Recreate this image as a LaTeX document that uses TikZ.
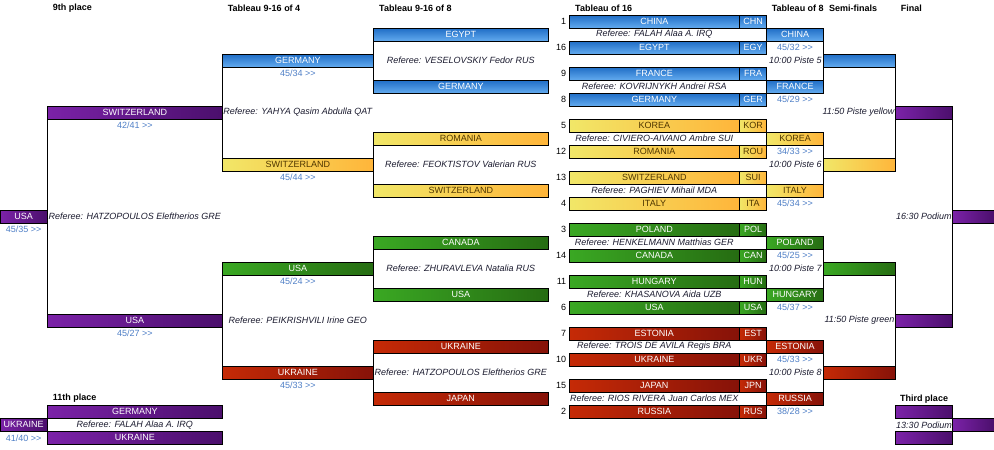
\documentclass[tikz,border=0pt]{standalone}
\usepackage{fontspec}
\setmainfont{Liberation Sans}
\usetikzlibrary{calc,positioning}

\definecolor{blueA}{HTML}{1F6DC6}
\definecolor{blueB}{HTML}{62AAEE}
\definecolor{yelA}{HTML}{F1E768}
\definecolor{yelB}{HTML}{FFB53A}
\definecolor{grnA}{HTML}{3AA823}
\definecolor{grnB}{HTML}{266C12}
\definecolor{redA}{HTML}{C52A06}
\definecolor{redB}{HTML}{861208}
\definecolor{purA}{HTML}{7B22A8}
\definecolor{purB}{HTML}{4B0F6C}
\definecolor{scoreblue}{HTML}{4F7FC6}
\definecolor{yeltext}{HTML}{4F3600}
\definecolor{refcol}{HTML}{1A1A2E}
\newcommand{\bfont}{\fontsize{9}{10}\selectfont}
\newcommand{\nxt}{>{}>}

\tikzset{
  team/.style={draw, line width=0.9pt, inner sep=0pt, outer sep=0pt,
    minimum height=13pt, text height=6.5pt, text depth=1.5pt, text=white, font=\bfont},
  blueteam/.style={team, top color=blueA, bottom color=blueB},
  yellowteam/.style={team, left color=yelA, right color=yelB, text=yeltext},
  greenteam/.style={team, left color=grnA, right color=grnB},
  redteam/.style={team, left color=redA, right color=redB},
  purpleteam/.style={team, left color=purA, right color=purB},
  w16/.style={minimum width=170pt},
  wcode/.style={minimum width=27.4pt},
  w8/.style={minimum width=56.6pt},
  wsemi/.style={minimum width=72.4pt},
  wfin/.style={minimum width=56.6pt},
  wwin/.style={minimum width=41.7pt},
  wfour/.style={minimum width=151pt},
  wplace/.style={minimum width=175pt},
  wlow/.style={minimum width=47.3pt},
  heading/.style={anchor=west, inner sep=0pt, font=\bfont\bfseries},
  seed/.style={inner sep=0pt, font=\bfont},
  score/.style={inner sep=0pt, text=scoreblue, font=\bfont},
  referee/.style={inner sep=0pt, text=refcol, font=\bfont\itshape},
  bracket/.style={line width=1.2pt},
}

\begin{document}
\begin{tikzpicture}[x=1pt, y=-1pt]
  \useasboundingbox (0,0) rectangle (994,450);
  % column headings
  \node[heading] (hd9) at (52.7,8.5) {9th place};
  \node[heading] (hd4) at (227.7,8.5) {Tableau 9-16 of 4};
  \node[heading] (hd8) at (379,8.5) {Tableau 9-16 of 8};
  \node[heading] (hdA) at (575,8.5) {Tableau of 16};
  \node[heading] (hdB) at (771.7,8.5) {Tableau of 8};
  \node[heading] (hdC) at (829,8.5) {Semi-finals};
  \node[heading] (hdD) at (900.7,8.5) {Final};

  % tableau of 16
  \node[blueteam, w16, anchor=north west] (n1) at (569.3,15) {CHINA};
  \node[blueteam, wcode, anchor=north west] (c1) at (n1.north east) {CHN};
  \node[seed, left=3pt of n1] (sd1) {1};
  \node[blueteam, w16, anchor=north west] (n2) at (569.3,41) {EGYPT};
  \node[blueteam, wcode, anchor=north west] (c2) at (n2.north east) {EGY};
  \node[seed, left=3pt of n2] (sd2) {16};
  \node[blueteam, w16, anchor=north west] (n3) at (569.3,67) {FRANCE};
  \node[blueteam, wcode, anchor=north west] (c3) at (n3.north east) {FRA};
  \node[seed, left=3pt of n3] (sd3) {9};
  \node[blueteam, w16, anchor=north west] (n4) at (569.3,93) {GERMANY};
  \node[blueteam, wcode, anchor=north west] (c4) at (n4.north east) {GER};
  \node[seed, left=3pt of n4] (sd4) {8};
  \node[yellowteam, w16, anchor=north west] (n5) at (569.3,119) {KOREA};
  \node[yellowteam, wcode, anchor=north west] (c5) at (n5.north east) {KOR};
  \node[seed, left=3pt of n5] (sd5) {5};
  \node[yellowteam, w16, anchor=north west] (n6) at (569.3,145) {ROMANIA};
  \node[yellowteam, wcode, anchor=north west] (c6) at (n6.north east) {ROU};
  \node[seed, left=3pt of n6] (sd6) {12};
  \node[yellowteam, w16, anchor=north west] (n7) at (569.3,171) {SWITZERLAND};
  \node[yellowteam, wcode, anchor=north west] (c7) at (n7.north east) {SUI};
  \node[seed, left=3pt of n7] (sd7) {13};
  \node[yellowteam, w16, anchor=north west] (n8) at (569.3,197) {ITALY};
  \node[yellowteam, wcode, anchor=north west] (c8) at (n8.north east) {ITA};
  \node[seed, left=3pt of n8] (sd8) {4};
  \node[greenteam, w16, anchor=north west] (n9) at (569.3,223) {POLAND};
  \node[greenteam, wcode, anchor=north west] (c9) at (n9.north east) {POL};
  \node[seed, left=3pt of n9] (sd9) {3};
  \node[greenteam, w16, anchor=north west] (n10) at (569.3,249) {CANADA};
  \node[greenteam, wcode, anchor=north west] (c10) at (n10.north east) {CAN};
  \node[seed, left=3pt of n10] (sd10) {14};
  \node[greenteam, w16, anchor=north west] (n11) at (569.3,275) {HUNGARY};
  \node[greenteam, wcode, anchor=north west] (c11) at (n11.north east) {HUN};
  \node[seed, left=3pt of n11] (sd11) {11};
  \node[greenteam, w16, anchor=north west] (n12) at (569.3,301) {USA};
  \node[greenteam, wcode, anchor=north west] (c12) at (n12.north east) {USA};
  \node[seed, left=3pt of n12] (sd12) {6};
  \node[redteam, w16, anchor=north west] (n13) at (569.3,327) {ESTONIA};
  \node[redteam, wcode, anchor=north west] (c13) at (n13.north east) {EST};
  \node[seed, left=3pt of n13] (sd13) {7};
  \node[redteam, w16, anchor=north west] (n14) at (569.3,353) {UKRAINE};
  \node[redteam, wcode, anchor=north west] (c14) at (n14.north east) {UKR};
  \node[seed, left=3pt of n14] (sd14) {10};
  \node[redteam, w16, anchor=north west] (n15) at (569.3,379) {JAPAN};
  \node[redteam, wcode, anchor=north west] (c15) at (n15.north east) {JPN};
  \node[seed, left=3pt of n15] (sd15) {15};
  \node[redteam, w16, anchor=north west] (n16) at (569.3,405) {RUSSIA};
  \node[redteam, wcode, anchor=north west] (c16) at (n16.north east) {RUS};
  \node[seed, left=3pt of n16] (sd16) {2};
  % referees, tableau of 16
  \node[referee] (rf1) at ($(n1.south)!0.5!(n2.north)$) {Referee: FALAH Alaa A. IRQ};
  \node[referee] (rf2) at ($(n3.south)!0.5!(n4.north)$) {Referee: KOVRIJNYKH Andrei RSA};
  \node[referee] (rf3) at ($(n5.south)!0.5!(n6.north)$) {Referee: CIVIERO-AIVANO Ambre SUI};
  \node[referee] (rf4) at ($(n7.south)!0.5!(n8.north)$) {Referee: PAGHIEV Mihail MDA};
  \node[referee] (rf5) at ($(n9.south)!0.5!(n10.north)$) {Referee: HENKELMANN Matthias GER};
  \node[referee] (rf6) at ($(n11.south)!0.5!(n12.north)$) {Referee: KHASANOVA Aida UZB};
  \node[referee] (rf7) at ($(n13.south)!0.5!(n14.north)$) {Referee: TROIS DE AVILA Regis BRA};
  \node[referee] (rf8) at ($(n15.south)!0.5!(n16.north)$) {Referee: RIOS RIVERA Juan Carlos MEX};

  % tableau of 8
  \node[blueteam, w8, anchor=north west] (e1) at (c1.south east) {CHINA};
  \node[blueteam, w8, anchor=north west] (e2) at (c3.south east) {FRANCE};
  \node[yellowteam, w8, anchor=north west] (e3) at (c5.south east) {KOREA};
  \node[yellowteam, w8, anchor=north west] (e4) at (c7.south east) {ITALY};
  \node[greenteam, w8, anchor=north west] (e5) at (c9.south east) {POLAND};
  \node[greenteam, w8, anchor=north west] (e6) at (c11.south east) {HUNGARY};
  \node[redteam, w8, anchor=north west] (e7) at (c13.south east) {ESTONIA};
  \node[redteam, w8, anchor=north west] (e8) at (c15.south east) {RUSSIA};
  \node[score, below=3pt of e1] (sc1) {45/32 \nxt};
  \node[score, below=3pt of e2] (sc2) {45/29 \nxt};
  \node[score, below=3pt of e3] (sc3) {34/33 \nxt};
  \node[score, below=3pt of e4] (sc4) {45/34 \nxt};
  \node[score, below=3pt of e5] (sc5) {45/25 \nxt};
  \node[score, below=3pt of e6] (sc6) {45/37 \nxt};
  \node[score, below=3pt of e7] (sc7) {45/33 \nxt};
  \node[score, below=3pt of e8] (sc8) {38/28 \nxt};
  \draw[bracket] (e1.south east) -- (e2.north east);
  \draw[bracket] (e3.south east) -- (e4.north east);
  \draw[bracket] (e5.south east) -- (e6.north east);
  \draw[bracket] (e7.south east) -- (e8.north east);

  % semi-finals
  \node[blueteam, wsemi, anchor=west] (s1) at ($(e1.south east)!0.5!(e2.north east)$) {};
  \node[yellowteam, wsemi, anchor=west] (s2) at ($(e3.south east)!0.5!(e4.north east)$) {};
  \node[greenteam, wsemi, anchor=west] (s3) at ($(e5.south east)!0.5!(e6.north east)$) {};
  \node[redteam, wsemi, anchor=west] (s4) at ($(e7.south east)!0.5!(e8.north east)$) {};
  \node[referee, left=1.5pt of s1] (tm1) {10:00 Piste 5};
  \node[referee, left=1.5pt of s2] (tm2) {10:00 Piste 6};
  \node[referee, left=1.5pt of s3] (tm3) {10:00 Piste 7};
  \node[referee, left=1.5pt of s4] (tm4) {10:00 Piste 8};
  \draw[bracket] (s1.south east) -- (s2.north east);
  \draw[bracket] (s3.south east) -- (s4.north east);

  % final
  \node[purpleteam, wfin, anchor=west] (f1) at ($(s1.south east)!0.5!(s2.north east)$) {};
  \node[purpleteam, wfin, anchor=west] (f2) at ($(s3.south east)!0.5!(s4.north east)$) {};
  \node[referee, left=1pt of f1] (tm5) {11:50 Piste yellow};
  \node[referee, left=1pt of f2] (tm6) {11:50 Piste green};
  \draw[bracket] (f1.south east) -- (f2.north east);
  \node[purpleteam, wwin, anchor=west] (w0) at ($(f1.south east)!0.5!(f2.north east)$) {};
  \node[referee, left=0.5pt of w0] (tm7) {16:30 Podium};

  % third place
  \node[purpleteam, wfin, anchor=north west] (t1) at (895.7,405.3) {};
  \node[purpleteam, wfin, anchor=north west] (t2) at (895.7,431.3) {};
  \node[purpleteam, wwin, anchor=north west] (tw) at (t1.south east) {};
  \node[referee] (tm8) at ($(t1.south)!0.5!(t2.north)$) {13:30 Podium};
  \node[heading, above=2pt of t1] (hdE) {Third place};

  % tableau 9-16 of 8
  \node[blueteam, wplace, anchor=north west] (g1) at (373.3,28) {EGYPT};
  \node[blueteam, wplace, anchor=north west] (g2) at (373.3,80) {GERMANY};
  \node[yellowteam, wplace, anchor=north west] (g3) at (373.3,132) {ROMANIA};
  \node[yellowteam, wplace, anchor=north west] (g4) at (373.3,184) {SWITZERLAND};
  \node[greenteam, wplace, anchor=north west] (g5) at (373.3,236) {CANADA};
  \node[greenteam, wplace, anchor=north west] (g6) at (373.3,288) {USA};
  \node[redteam, wplace, anchor=north west] (g7) at (373.3,340) {UKRAINE};
  \node[redteam, wplace, anchor=north west] (g8) at (373.3,392) {JAPAN};
  \node[referee] (rg1) at ($(g1.south)!0.5!(g2.north)$) {Referee: VESELOVSKIY Fedor RUS};
  \node[referee] (rg2) at ($(g3.south)!0.5!(g4.north)$) {Referee: FEOKTISTOV Valerian RUS};
  \node[referee] (rg3) at ($(g5.south)!0.5!(g6.north)$) {Referee: ZHURAVLEVA Natalia RUS};
  \node[referee] (rg4) at ($(g7.south)!0.5!(g8.north)$) {Referee: HATZOPOULOS Eleftherios GRE};
  \draw[bracket] (g1.south west) -- (g2.north west);
  \draw[bracket] (g3.south west) -- (g4.north west);
  \draw[bracket] (g5.south west) -- (g6.north west);
  \draw[bracket] (g7.south west) -- (g8.north west);

  % tableau 9-16 of 4
  \node[blueteam, wfour, anchor=east] (h1) at ($(g1.south west)!0.5!(g2.north west)$) {GERMANY};
  \node[yellowteam, wfour, anchor=east] (h2) at ($(g3.south west)!0.5!(g4.north west)$) {SWITZERLAND};
  \node[greenteam, wfour, anchor=east] (h3) at ($(g5.south west)!0.5!(g6.north west)$) {USA};
  \node[redteam, wfour, anchor=east] (h4) at ($(g7.south west)!0.5!(g8.north west)$) {UKRAINE};
  \node[score, below=3pt of h1] (sh1) {45/34 \nxt};
  \node[score, below=3pt of h2] (sh2) {45/44 \nxt};
  \node[score, below=3pt of h3] (sh3) {45/24 \nxt};
  \node[score, below=3pt of h4] (sh4) {45/33 \nxt};
  \node[referee] (rh1) at ($(h1.south)!0.5!(h2.north)$) {Referee: YAHYA Qasim Abdulla QAT};
  \node[referee] (rh2) at ($(h3.south)!0.5!(h4.north)$) {Referee: PEIKRISHVILI Irine GEO};
  \draw[bracket] (h1.south west) -- (h2.north west);
  \draw[bracket] (h3.south west) -- (h4.north west);

  % 9th place
  \node[purpleteam, wplace, anchor=east] (p1) at ($(h1.south west)!0.5!(h2.north west)$) {SWITZERLAND};
  \node[purpleteam, wplace, anchor=east] (p2) at ($(h3.south west)!0.5!(h4.north west)$) {USA};
  \node[score, below=3pt of p1] (sp1) {42/41 \nxt};
  \node[score, below=3pt of p2] (sp2) {45/27 \nxt};
  \node[referee] (rp1) at ($(p1.south)!0.5!(p2.north)$) {Referee: HATZOPOULOS Eleftherios GRE};
  \draw[bracket] (p1.south west) -- (p2.north west);
  \node[purpleteam, wlow, anchor=east] (q0) at ($(p1.south west)!0.5!(p2.north west)$) {USA};
  \node[score, below=3pt of q0] (sq0) {45/35 \nxt};

  % 11th place
  \node[heading] (hdF) at (52.7,398) {11th place};
  \node[purpleteam, wplace, anchor=north west] (m1) at (47.3,405.3) {GERMANY};
  \node[purpleteam, wplace, anchor=north west] (m2) at (47.3,431.3) {UKRAINE};
  \node[purpleteam, wlow, anchor=north east] (mw) at (m1.south west) {UKRAINE};
  \node[score, below=3pt of mw] (smw) {41/40 \nxt};
  \node[referee] (rm1) at ($(m1.south)!0.5!(m2.north)$) {Referee: FALAH Alaa A. IRQ};
\end{tikzpicture}
\end{document}
